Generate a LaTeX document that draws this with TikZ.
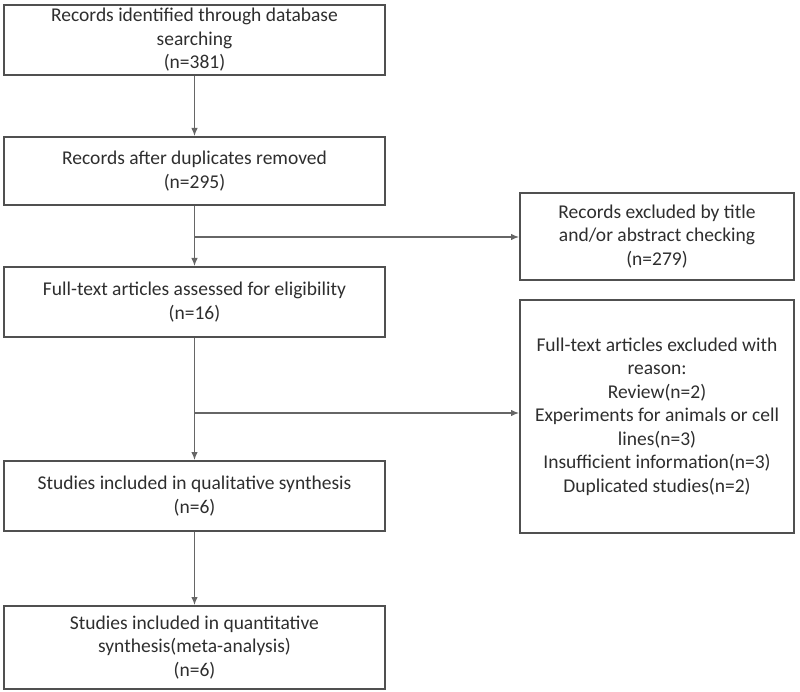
\documentclass[tikz,border=0pt]{standalone}
\usepackage{fontspec}
\setmainfont{Carlito}
\usepackage{tikz}
\usetikzlibrary{arrows.meta}
\definecolor{ink}{HTML}{2E2E2E}
\definecolor{frame}{HTML}{505050}
\definecolor{wire}{HTML}{666666}
\tikzset{
  box/.style={draw=frame, line width=2pt, align=center, inner sep=0pt,
    font=\fontsize{19.5}{23.5}\selectfont, text=ink},
  mainbox/.style={box, minimum width=381pt},
  sidebox/.style={box, minimum width=274pt},
  flow/.style={draw=wire, line width=1.2pt, -{Latex[length=8pt,width=6.5pt]}}
}

\begin{document}
\begin{tikzpicture}[x=1pt,y=-1pt]
  \useasboundingbox (0,0) rectangle (800,692);

  \node[mainbox, minimum height=70pt] (ident) at (194.5,40)
    {Records identified through database\\searching\\(n=381)};
  \node[mainbox, minimum height=68pt] (dedup) at (194.5,171)
    {Records after duplicates removed\\(n=295)};
  \node[mainbox, minimum height=70pt] (full) at (194.5,302)
    {Full-text articles assessed for eligibility\\(n=16)};
  \node[mainbox, minimum height=70pt] (qual) at (194.5,496)
    {Studies included in qualitative synthesis\\(n=6)};
  \node[mainbox, minimum height=83pt] (quant) at (194.5,647.5)
    {Studies included in quantitative\\synthesis(meta-analysis)\\(n=6)};

  \node[sidebox, minimum height=87pt] (excl) at (657,236.5)
    {Records excluded by title\\and/or abstract checking\\(n=279)};
  \node[sidebox, minimum height=233pt] (reason) at (657,416.5)
    {Full-text articles excluded with\\reason:\\Review(n=2)\\Experiments for animals or cell\\lines(n=3)\\Insufficient information(n=3)\\Duplicated studies(n=2)};

  \coordinate (j1) at (dedup.south |- 0,237);
  \coordinate (j2) at (full.south |- 0,413);

  \draw[flow] (ident) -- (dedup);
  \draw[flow] (dedup) -- (full);
  \draw[flow] (j1) -- (excl.west |- j1);
  \draw[flow] (full) -- (qual);
  \draw[flow] (j2) -- (reason.west |- j2);
  \draw[flow] (qual) -- (quant);
\end{tikzpicture}
\end{document}
